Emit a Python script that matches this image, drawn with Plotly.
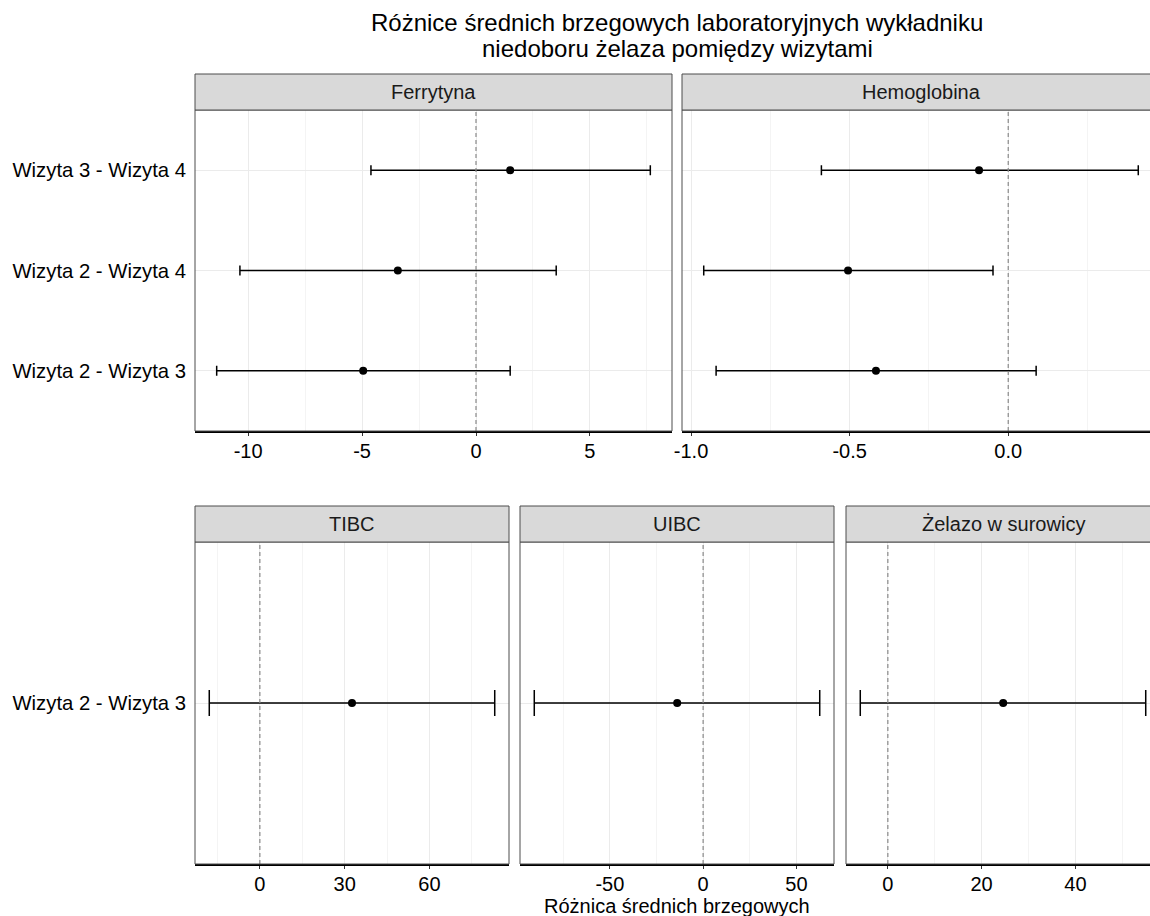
import plotly.graph_objects as go

W, H = 1150, 916
FONT = "Liberation Sans, Arial, sans-serif"

# ---------------- data ----------------
comparisons_top = ["Wizyta 2 - Wizyta 3", "Wizyta 2 - Wizyta 4", "Wizyta 3 - Wizyta 4"]
comparisons_bottom = ["Wizyta 2 - Wizyta 3"]

ferr_est = [-4.95, -3.43, 1.50]
ferr_lo = [-11.38, -10.36, -4.61]
ferr_hi = [1.50, 3.52, 7.65]

hemo_est = [-0.417, -0.505, -0.092]
hemo_lo = [-0.921, -0.960, -0.589]
hemo_hi = [0.088, -0.048, 0.410]

tibc_est = [32.6]
tibc_lo = [-17.9]
tibc_hi = [83.1]

uibc_est = [-13.9]
uibc_lo = [-90.5]
uibc_hi = [62.5]

zel_est = [24.6]
zel_lo = [-5.88]
zel_hi = [55.0]

ferr_ticks = [-10, -5, 0, 5]
ferr_labels = ["-10", "-5", "0", "5"]
hemo_ticks = [-1.0, -0.5, 0.0]
hemo_labels = ["-1.0", "-0.5", "0.0"]
tibc_ticks = [0, 30, 60]
tibc_labels = ["0", "30", "60"]
uibc_ticks = [-50, 0, 50]
uibc_labels = ["-50", "0", "50"]
zel_ticks = [0, 20, 40]
zel_labels = ["0", "20", "40"]

title_line1 = "Różnice średnich brzegowych laboratoryjnych wykładniku"
title_line2 = "niedoboru żelaza pomiędzy wizytami"
x_title = "Różnica średnich brzegowych"

# ---------------- layout geometry (pixels) ----------------
TOP = dict(strip0=74, y0=110, y1=431)
BOT = dict(strip0=506, y0=542, y1=864)

panels = [
    dict(name="Ferrytyna", cats=comparisons_top, est=ferr_est, lo=ferr_lo, hi=ferr_hi,
         ticks=ferr_ticks, labels=ferr_labels, minor=2.5, x0=195, x1=672, row=TOP, ylab=True, cap=5),
    dict(name="Hemoglobina", cats=comparisons_top, est=hemo_est, lo=hemo_lo, hi=hemo_hi,
         ticks=hemo_ticks, labels=hemo_labels, minor=0.25, x0=682, x1=1160, row=TOP, ylab=False, cap=5),
    dict(name="TIBC", cats=comparisons_bottom, est=tibc_est, lo=tibc_lo, hi=tibc_hi,
         ticks=tibc_ticks, labels=tibc_labels, minor=15, x0=195, x1=509, row=BOT, ylab=True, cap=13),
    dict(name="UIBC", cats=comparisons_bottom, est=uibc_est, lo=uibc_lo, hi=uibc_hi,
         ticks=uibc_ticks, labels=uibc_labels, minor=25, x0=520, x1=834, row=BOT, ylab=False, cap=13),
    dict(name="Żelazo w surowicy", cats=comparisons_bottom, est=zel_est, lo=zel_lo, hi=zel_hi,
         ticks=zel_ticks, labels=zel_labels, minor=10, x0=846, x1=1160, row=BOT, ylab=False, cap=13),
]


def px(x):
    return x / W


def py(y):
    return 1 - y / H


fig = go.Figure()
shapes = []
annotations = []
layout_axes = {}

for i, p in enumerate(panels, start=1):
    xa = "x" if i == 1 else f"x{i}"
    ya = "y" if i == 1 else f"y{i}"
    xkey = "xaxis" if i == 1 else f"xaxis{i}"
    ykey = "yaxis" if i == 1 else f"yaxis{i}"

    lo_min, hi_max = min(p["lo"]), max(p["hi"])
    pad = 0.05 * (hi_max - lo_min)
    r0, r1 = lo_min - pad, hi_max + pad
    x0, x1 = p["x0"], p["x1"]
    strip_center = (x0 + x1) / 2
    if x1 > W:  # panel cut by the image edge
        r1 = r0 + (r1 - r0) * (W - x0) / (x1 - x0)
        x1v = W
    else:
        x1v = x1
    row = p["row"]

    plus = [h - e for h, e in zip(p["hi"], p["est"])]
    minus = [e - l for e, l in zip(p["est"], p["lo"])]

    fig.add_trace(go.Scatter(
        x=p["est"], y=p["cats"], mode="markers",
        marker=dict(color="black", size=8),
        error_x=dict(type="data", symmetric=False, array=plus, arrayminus=minus,
                     color="black", thickness=1.5, width=p["cap"]),
        xaxis=xa, yaxis=ya, showlegend=False, cliponaxis=False,
    ))

    n = len(p["cats"])
    layout_axes[xkey] = dict(
        domain=[px(x0), px(x1v)], anchor=ya, range=[r0, r1], automargin=False,
        tickmode="array", tickvals=p["ticks"], ticktext=p["labels"],
        showgrid=True, gridcolor="#EBEBEB", gridwidth=1,
        minor=dict(tickmode="linear", tick0=0, dtick=p["minor"], showgrid=True,
                   gridcolor="#F4F4F4", gridwidth=1, ticklen=0),
        zeroline=False, showline=True, linecolor="black", linewidth=1.6,
        ticks="outside", ticklen=3, tickcolor="#333333", tickwidth=1.2,
        ticklabelstandoff=-2,
        tickfont=dict(family=FONT, size=20, color="black"),
        fixedrange=True,
    )
    layout_axes[ykey] = dict(
        domain=[py(row["y1"]), py(row["y0"])], anchor=xa, automargin=False,
        type="category", categoryorder="array", categoryarray=p["cats"],
        range=[-0.6, n - 0.4],
        showgrid=True, gridcolor="#EBEBEB", gridwidth=1, zeroline=False,
        showline=False,
        showticklabels=p["ylab"], ticks="",
        tickfont=dict(family=FONT, size=20.3, color="black"),
        ticklabelstandoff=8,
        fixedrange=True,
    )

    # dashed reference line at zero
    shapes.append(dict(type="line", xref=xa, yref=f"{ya} domain", x0=0, x1=0, y0=0, y1=1,
                       line=dict(color="#8A8A8A", width=1.2, dash="4px,3px"), layer="above"))
    # panel border (gray)
    shapes.append(dict(type="rect", xref="paper", yref="paper",
                       x0=px(x0), x1=px(x1), y0=py(row["y1"]), y1=py(row["y0"]),
                       line=dict(color="#4D4D4D", width=1), fillcolor="rgba(0,0,0,0)", layer="above"))
    # strip
    shapes.append(dict(type="rect", xref="paper", yref="paper",
                       x0=px(x0), x1=px(x1), y0=py(row["y0"]), y1=py(row["strip0"]),
                       line=dict(color="#4D4D4D", width=1), fillcolor="#D9D9D9", layer="above"))
    annotations.append(dict(text=p["name"], xref="paper", yref="paper",
                            x=px(strip_center), y=py((row["strip0"] + row["y0"]) / 2),
                            xanchor="center", yanchor="middle", showarrow=False,
                            font=dict(family=FONT, size=20, color="#1A1A1A")))

# titles
annotations.append(dict(text=title_line1, xref="paper", yref="paper", x=px(677), y=py(22),
                        xanchor="center", yanchor="middle", showarrow=False,
                        font=dict(family=FONT, size=24, color="black")))
annotations.append(dict(text=title_line2, xref="paper", yref="paper", x=px(677), y=py(48),
                        xanchor="center", yanchor="middle", showarrow=False,
                        font=dict(family=FONT, size=24, color="black")))
annotations.append(dict(text=x_title, xref="paper", yref="paper", x=px(677), y=py(906),
                        xanchor="center", yanchor="middle", showarrow=False,
                        font=dict(family=FONT, size=20, color="black")))

fig.update_layout(
    width=W, height=H, margin=dict(l=0, r=0, t=0, b=0, autoexpand=False),
    paper_bgcolor="white", plot_bgcolor="white",
    shapes=shapes, annotations=annotations, showlegend=False,
    font=dict(family=FONT, color="black"),
    **layout_axes,
)

fig.write_html("out.html", config={"displayModeBar": False})
